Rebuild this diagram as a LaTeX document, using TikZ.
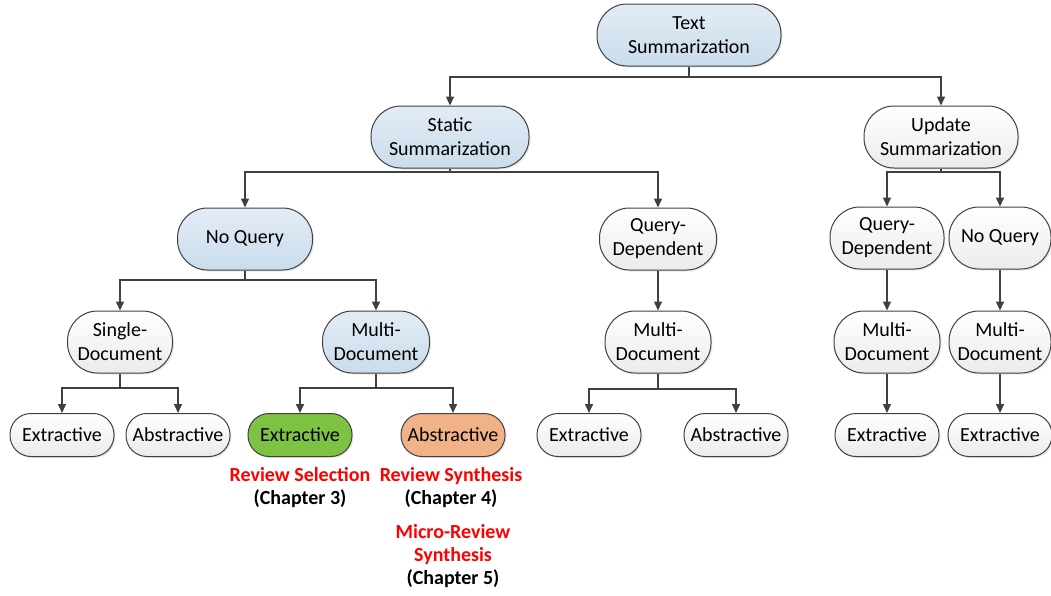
\documentclass[tikz,border=0pt]{standalone}
\usepackage{fontspec}
\setmainfont{Carlito}
\usetikzlibrary{arrows.meta,shadows}

\definecolor{edge}{HTML}{404040}
\definecolor{blueTop}{HTML}{E3ECF6}
\definecolor{blueBot}{HTML}{CADCEB}
\definecolor{greyTop}{HTML}{FFFFFF}
\definecolor{greyBot}{HTML}{EBEBEB}
\definecolor{greenFill}{HTML}{7DC242}
\definecolor{orangeFill}{HTML}{F1B287}
\definecolor{noteRed}{HTML}{FF0000}

\tikzset{
  pill/.style={draw=edge, line width=1pt, align=center, inner sep=0pt,
    font=\fontsize{20}{24}\selectfont, rounded corners=30pt,
    drop shadow={opacity=0.18, shadow xshift=1.5pt, shadow yshift=-1.5pt}},
  bluepill/.style={pill, top color=blueTop, bottom color=blueBot},
  greypill/.style={pill, top color=greyTop, bottom color=greyBot},
  leaf/.style={minimum width=104pt, minimum height=43pt, rounded corners=21pt},
  twoline/.style={minimum height=62pt},
  link/.style={draw=edge, line width=1.5pt},
  arr/.style={link, -{Triangle[length=9pt,width=8pt]}},
  note/.style={font=\fontsize{20}{23}\selectfont\bfseries, align=center},
}

\begin{document}
\begin{tikzpicture}[x=1pt,y=-1pt]
\useasboundingbox (0,0) rectangle (1051,595);

% top levels
\node[bluepill, twoline, minimum width=184pt] (ts) at (689,35) {Text\\Summarization};
\node[bluepill, twoline, minimum width=158pt] (ss) at (450,137) {Static\\Summarization};
\node[greypill, twoline, minimum width=154pt] (us) at (941,137) {Update\\Summarization};

% query level
\node[bluepill, twoline, minimum width=135pt] (nqa) at (245,239) {No Query};
\node[greypill, twoline, minimum width=117pt] (qda) at (658,239) {Query-\\Dependent};
\node[greypill, twoline, minimum width=114pt] (qdb) at (887,238) {Query-\\Dependent};
\node[greypill, twoline, minimum width=102pt] (nqb) at (1000,238) {No Query};

% document level
\node[greypill, twoline, minimum width=105pt] (sd) at (120,342) {Single-\\Document};
\node[bluepill, twoline, minimum width=107pt] (mda) at (376,342) {Multi-\\Document};
\node[greypill, twoline, minimum width=106pt] (mdb) at (658,342) {Multi-\\Document};
\node[greypill, twoline, minimum width=106pt] (mdc) at (887,342) {Multi-\\Document};
\node[greypill, twoline, minimum width=102pt] (mdd) at (1000,342) {Multi-\\Document};

% leaves
\node[greypill, leaf] (la) at (62,435) {Extractive};
\node[greypill, leaf] (lb) at (178,435) {Abstractive};
\node[pill, leaf, fill=greenFill] (lc) at (300,435) {Extractive};
\node[pill, leaf, fill=orangeFill] (ld) at (453,435) {Abstractive};
\node[greypill, leaf] (le) at (589,435) {Extractive};
\node[greypill, leaf] (lf) at (736,435) {Abstractive};
\node[greypill, leaf] (lg) at (887,435) {Extractive};
\node[greypill, leaf] (lh) at (1000,435) {Extractive};

% chapter notes
\node[note] (n3) at (300,488) {\textcolor{noteRed}{Review Selection}\\(Chapter 3)};
\node[note] (n4) at (451,488) {\textcolor{noteRed}{Review Synthesis}\\(Chapter 4)};
\node[note] (n5) at (453,556) {\textcolor{noteRed}{Micro-Review}\\\textcolor{noteRed}{Synthesis}\\(Chapter 5)};

% branching connectors
\coordinate (j1) at (689,77);
\draw[link] (ts.south) -- (j1);
\draw[arr] (j1) -| (ss.north);
\draw[arr] (j1) -| (us.north);

\coordinate (j2) at (450,172);
\draw[link] (ss.south) -- (j2);
\draw[arr] (j2) -| (nqa.north);
\draw[arr] (j2) -| (qda.north);

\coordinate (j3) at (941,172);
\draw[link] (us.south) -- (j3);
\draw[arr] (j3) -| (qdb.north);
\draw[arr] (j3) -| (nqb.north);

\coordinate (j4) at (245,280);
\draw[link] (nqa.south) -- (j4);
\draw[arr] (j4) -| (sd.north);
\draw[arr] (j4) -| (mda.north);

\coordinate (j5) at (120,388);
\draw[link] (sd.south) -- (j5);
\draw[arr] (j5) -| (la.north);
\draw[arr] (j5) -| (lb.north);

\coordinate (j6) at (376,388);
\draw[link] (mda.south) -- (j6);
\draw[arr] (j6) -| (lc.north);
\draw[arr] (j6) -| (ld.north);

\coordinate (j7) at (658,389);
\draw[link] (mdb.south) -- (j7);
\draw[arr] (j7) -| (le.north);
\draw[arr] (j7) -| (lf.north);

% straight connectors
\draw[arr] (qda) -- (mdb);
\draw[arr] (qdb) -- (mdc);
\draw[arr] (nqb) -- (mdd);
\draw[arr] (mdc) -- (lg);
\draw[arr] (mdd) -- (lh);
\end{tikzpicture}
\end{document}
